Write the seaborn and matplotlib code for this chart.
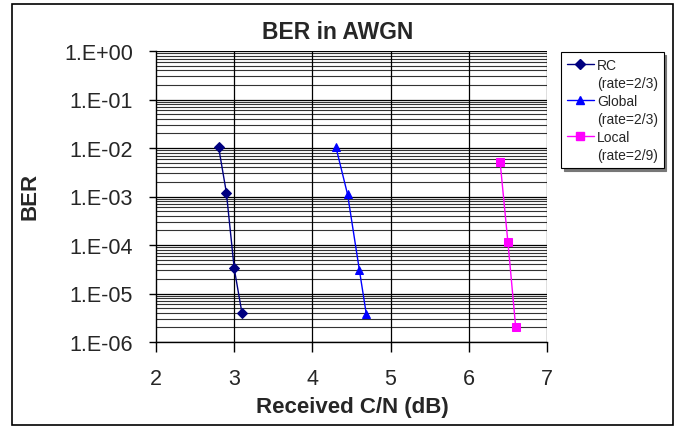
import numpy as np
import pandas as pd
import matplotlib
matplotlib.use("Agg")
import matplotlib.pyplot as plt
import seaborn as sns
from matplotlib.patches import Rectangle
from matplotlib.lines import Line2D
from matplotlib.ticker import FixedLocator, FuncFormatter, NullFormatter

# ---- data ----
rc_x = [2.8, 2.9, 3.0, 3.1]
rc_y = [1.05e-2, 1.2e-3, 3.3e-5, 3.9e-6]
global_x = [4.3, 4.45, 4.6, 4.69]
global_y = [1.05e-2, 1.1e-3, 3.1e-5, 3.7e-6]
local_x = [6.4, 6.5, 6.6]
local_y = [5.2e-3, 1.15e-4, 2.0e-6]

series_names = ["RC", "Global", "Local"]
series_rates = ["(rate=2/3)", "(rate=2/3)", "(rate=2/9)"]
x_ticks = [2, 3, 4, 5, 6, 7]
y_ticks = [1e0, 1e-1, 1e-2, 1e-3, 1e-4, 1e-5, 1e-6]

title = "BER in AWGN"
xlabel = "Received C/N (dB)"
ylabel = "BER"

sns.set_style("white")
plt.rcParams['font.family'] = ['Liberation Sans', 'DejaVu Sans']

df = pd.concat([
    pd.DataFrame({"x": rc_x, "y": rc_y, "series": series_names[0]}),
    pd.DataFrame({"x": global_x, "y": global_y, "series": series_names[1]}),
    pd.DataFrame({"x": local_x, "y": local_y, "series": series_names[2]}),
])

W, H = 688, 427
fig = plt.figure(figsize=(W/100, H/100), dpi=100)
ax = fig.add_axes([156/W, 1-343/H, (547-156)/W, (343-52)/H])

colors = ["#000080", "#0000FF", "#FF00FF"]
markers = ["D", "^", "s"]
msizes = [5, 6, 6]
for name, c, m, ms in zip(series_names, colors, markers, msizes):
    sub = df[df["series"] == name]
    sns.lineplot(data=sub, x="x", y="y", ax=ax, color=c, marker=m,
                 markersize=ms, markeredgecolor=c, linewidth=1.0,
                 estimator=None, sort=False, zorder=5, legend=False)

ax.set_yscale("log")
ax.set_xlim(2, 7)
ax.set_ylim(1e-6, 1e0)

# gridlines
minor_vals = [k * 10.0**e for e in range(-6, 0) for k in range(2, 10)]
for v in minor_vals:
    ax.axhline(v, color="#333333", linewidth=0.8, zorder=1)
for v in y_ticks:
    ax.axhline(v, color="black", linewidth=0.9, zorder=1)
for v in x_ticks[1:]:
    ax.axvline(v, color="black", linewidth=0.9, zorder=1)

ax.yaxis.set_major_locator(FixedLocator(y_ticks))
ax.yaxis.set_minor_locator(FixedLocator([]))
ax.yaxis.set_minor_formatter(NullFormatter())
ax.yaxis.set_major_formatter(FuncFormatter(lambda v, p: "1.E{:+03d}".format(int(round(np.log10(v))))))
ax.xaxis.set_major_locator(FixedLocator(x_ticks))

for s in ["top", "right"]:
    ax.spines[s].set_visible(False)
for s in ["left", "bottom"]:
    ax.spines[s].set_color("black")
    ax.spines[s].set_linewidth(1.0)

ax.tick_params(axis="both", which="major", direction="out", width=1,
               color="black", labelsize=15.5, left=True, bottom=True)
ax.tick_params(axis="x", length=7, pad=12)
ax.tick_params(axis="y", length=5, pad=11.5)
ax.set_xlabel("")
ax.set_ylabel("")

fig.text(338/W, 1-39/H, title, fontsize=16.5, fontweight="bold", ha="center", va="baseline")
fig.text(352/W, 1-413/H, xlabel, fontsize=16, fontweight="bold", ha="center", va="baseline")
fig.text(30/W, 1-196/H, ylabel, fontsize=16, fontweight="bold", ha="center", va="center",
         rotation=90)

# legend: name line carries the handle, rate line has an empty handle
handles, labels = [], []
for name, rate, c, m, ms in zip(series_names, series_rates, colors, markers, msizes):
    handles.append(Line2D([], [], color=c, marker=m, markersize=ms, markeredgecolor=c, linewidth=1.0))
    labels.append(name)
    handles.append(Line2D([], [], linestyle="none", marker=None))
    labels.append(rate)
leg = fig.legend(handles, labels, loc="upper left",
                 bbox_to_anchor=(561/W, 1-53/H), frameon=True, fancybox=False,
                 shadow={'color': '#777777', 'alpha': 1.0}, fontsize=10, handlelength=1.95,
                 labelspacing=0.3, borderpad=0.4, handletextpad=0.25, borderaxespad=0)
leg.get_frame().set_edgecolor("black")
leg.get_frame().set_linewidth(0.8)

fig.patches.append(Rectangle((12/W, 1-426/H), (673-12)/W, (426-5)/H,
                             transform=fig.transFigure, fill=False,
                             edgecolor="black", linewidth=1.2))

fig.savefig("out.png", dpi=100)
